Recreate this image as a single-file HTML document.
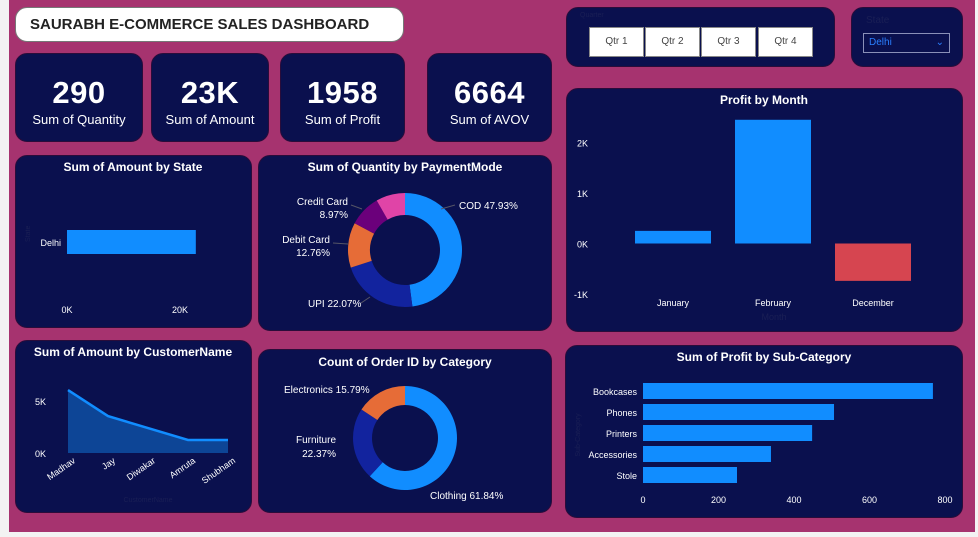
<!DOCTYPE html>
<html><head><meta charset="utf-8">
<style>
*{box-sizing:border-box;margin:0;padding:0}
body{width:978px;height:537px;background:#f3f3f3;font-family:"Liberation Sans","DejaVu Sans",sans-serif;position:relative;overflow:hidden}
#bg{position:absolute;left:9px;top:0;width:966px;height:532px;background:#A6336F}
.card{position:absolute;background:#0A104E;border-radius:12px;border:1px solid #2a0c3a}
.kpi{color:#fff;text-align:center}
.kpi .v{font-size:31px;font-weight:600;margin-top:22px;letter-spacing:0.5px;line-height:34px}
.kpi .l{font-size:13px;margin-top:2px}
.qb{position:absolute;top:27px;width:55px;height:30px;background:#fff;border:1px solid #888;color:#444;font-size:10px;text-align:center;line-height:28px}
svg text{font-family:"Liberation Sans","DejaVu Sans",sans-serif}
</style></head><body>
<div id="bg"></div>
<div style="position:absolute;left:15px;top:7px;width:389px;height:35px;background:#fff;border:1px solid #777;border-radius:12px;font-weight:bold;font-size:15px;line-height:33px;padding-left:14px;color:#222">SAURABH E-COMMERCE SALES DASHBOARD</div>
<div class="card kpi" style="left:15px;top:53px;width:128px;height:89px"><div class="v">290</div><div class="l">Sum of Quantity</div></div>
<div class="card kpi" style="left:151px;top:53px;width:118px;height:89px"><div class="v">23K</div><div class="l">Sum of Amount</div></div>
<div class="card kpi" style="left:280px;top:53px;width:125px;height:89px"><div class="v">1958</div><div class="l">Sum of Profit</div></div>
<div class="card kpi" style="left:427px;top:53px;width:125px;height:89px"><div class="v">6664</div><div class="l">Sum of AVOV</div></div>
<div class="card" style="left:566px;top:7px;width:269px;height:60px"><div style="position:absolute;left:13px;top:4px;font-size:7px;color:#1a1f55">Quarter</div></div>
<div class="qb" style="left:589px">Qtr 1</div>
<div class="qb" style="left:645px">Qtr 2</div>
<div class="qb" style="left:701px">Qtr 3</div>
<div class="qb" style="left:758px">Qtr 4</div>
<div class="card" style="left:851px;top:7px;width:112px;height:60px"><div style="position:absolute;left:14px;top:7px;font-size:10px;color:#1a1f55">State</div></div>
<div style="position:absolute;left:863px;top:33px;width:87px;height:20px;border:1px solid #8a90b8;color:#2a7fff;font-size:10px;line-height:18px;padding-left:5px">Delhi<span style="position:absolute;right:5px;top:0">&#8964;</span></div>
<div class="card" style="left:15px;top:155px;width:237px;height:173px"></div>
<div class="card" style="left:258px;top:155px;width:294px;height:176px"></div>
<div class="card" style="left:566px;top:88px;width:397px;height:244px"></div>
<div class="card" style="left:15px;top:340px;width:237px;height:173px"></div>
<div class="card" style="left:258px;top:349px;width:294px;height:164px"></div>
<div class="card" style="left:565px;top:345px;width:398px;height:173px"></div>
<svg id="s" width="978" height="537" style="position:absolute;left:0;top:0"></svg>
<script>
const stateCats=["Delhi"];const stateVals=[22800];const stateTicks=["0K","20K"];
const payCats=["COD","UPI","Debit Card","Credit Card","Other"];const payVals=[47.93,22.07,12.76,8.97,8.27];
const monthCats=["January","February","December"];const monthVals=[250,2450,-740];const monthTicks=[2000,1000,0,-1000];
const custCats=["Madhav","Jay","Diwakar","Amruta","Shubham"];const custVals=[6050,3550,2400,1250,1250];
const catCats=["Clothing","Furniture","Electronics"];const catVals=[61.84,22.37,15.79];
const subCats=["Bookcases","Phones","Printers","Accessories","Stole"];const subVals=[768,506,448,339,249];const subTicks=[0,200,400,600,800];
const S=document.getElementById('s');const NS="http://www.w3.org/2000/svg";
function mk(t,a,txt){const e=document.createElementNS(NS,t);for(const k in a)e.setAttribute(k,a[k]);if(txt!==undefined)e.textContent=txt;S.appendChild(e);return e;}
function T(x,y,s,o){o=o||{};return mk('text',Object.assign({x:x,y:y,fill:'#fff','font-size':o.fs||10,'text-anchor':o.a||'start','font-weight':o.b?'bold':'normal'},o.t?{transform:o.t}:{}),s);}
[["Sum of Amount by State",133,171],["Sum of Quantity by PaymentMode",405,171],["Profit by Month",764,104],["Sum of Amount by CustomerName",133,356],["Count of Order ID by Category",405,366],["Sum of Profit by Sub-Category",764,361]].forEach(t=>{const e=T(t[1],t[2],t[0],{a:'middle',b:1,fs:12});

});
const sx=v=>67+v*(113/20000);
stateVals.forEach((v,i)=>{const r=mk('rect',{x:sx(0),y:230,width:sx(v)-sx(0),height:24,fill:'#118DFF'});


T(61,246,stateCats[i],{a:'end',fs:9});});
stateTicks.forEach((t,i)=>T(sx(i*20000),313,t,{a:'middle',fs:9}));
T(30,242,"State",{fs:7,t:"rotate(-90 30 242)"}).setAttribute('fill','#1a1f55');
function donut(cx,cy,R,r,vals,cols,name){let a=0;const tot=vals.reduce((p,c)=>p+c,0);vals.forEach((v,i)=>{const a0=a/tot*2*Math.PI,a1=(a+v)/tot*2*Math.PI;a+=v;
const p=(ang,rad)=>[cx+rad*Math.sin(ang),cy-rad*Math.cos(ang)];const L=(a1-a0)>Math.PI?1:0;
const [x0,y0]=p(a0,R),[x1,y1]=p(a1,R),[x2,y2]=p(a1,r),[x3,y3]=p(a0,r);
const e=mk('path',{d:`M${x0},${y0}A${R},${R} 0 ${L} 1 ${x1},${y1}L${x2},${y2}A${r},${r} 0 ${L} 0 ${x3},${y3}Z`,fill:cols[i]});

});}
donut(405,250,57,35,payVals,['#118DFF','#12239E','#E66C37','#6B007B','#E044A7'],'payment');
T(459,209,"COD "+payVals[0]+"%",{fs:10});
T(308,307,"UPI "+payVals[1]+"%",{fs:10});
T(330,243,"Debit Card",{a:'end',fs:10});T(330,256,payVals[2]+"%",{a:'end',fs:10});
T(348,205,"Credit Card",{a:'end',fs:10});T(348,218,payVals[3]+"%",{a:'end',fs:10});
[[441,209,455,205],[361,303,370,297],[333,243,348,244],[351,205,362,209]].forEach(l=>mk('path',{d:`M${l[0]},${l[1]}L${l[2]},${l[3]}`,stroke:'#556',fill:'none'}));
donut(405,438,52,33,catVals,['#118DFF','#12239E','#E66C37'],'category');
T(430,499,"Clothing "+catVals[0]+"%",{fs:10});
T(336,443,"Furniture",{a:'end',fs:10});T(336,457,catVals[1]+"%",{a:'end',fs:10});
T(284,393,"Electronics "+catVals[2]+"%",{fs:10});
const my=v=>243.5-v*0.0505;
monthTicks.forEach(t=>T(588,my(t)+4,(t/1000)+"K",{a:'end',fs:9}));
monthVals.forEach((v,i)=>{const x=635+i*100;const r=mk('rect',{x:x,y:Math.min(my(v),my(0)),width:76,height:Math.abs(my(v)-my(0)),fill:v<0?'#D64550':'#118DFF'});


T(x+38,306,monthCats[i],{a:'middle',fs:9});});
T(774,320,"Month",{a:'middle',fs:9}).setAttribute('fill','#1a1f55');
const cx=i=>68+i*40,cy=v=>453-v*0.0104;
let d=`M${cx(0)},${cy(0)}`;custVals.forEach((v,i)=>d+=`L${cx(i)},${cy(v)}`);d+=`L${cx(custVals.length-1)},${cy(0)}Z`;
const ar=mk('path',{d:d,fill:'#0D4596'});
const ln=mk('polyline',{points:custVals.map((v,i)=>cx(i)+','+cy(v)).join(' '),fill:'none',stroke:'#118DFF','stroke-width':2.5});

[0,5000].forEach(t=>T(46,cy(t)+4,(t/1000)+"K",{a:'end',fs:9}));
custCats.forEach((c,i)=>{const x=cx(i)+8,y=462;T(x,y,c,{a:'end',fs:9,t:`rotate(-35 ${x} ${y})`});});
T(148,502,"CustomerName",{a:'middle',fs:7}).setAttribute('fill','#1a1f55');
const bx=v=>643+v*0.3775;
subVals.forEach((v,i)=>{const y=383+i*21;const r=mk('rect',{x:bx(0),y:y,width:bx(v)-bx(0),height:16,fill:'#118DFF'});


T(637,y+12,subCats[i],{a:'end',fs:9});});
subTicks.forEach(t=>T(bx(t),503,String(t),{a:'middle',fs:9}));
T(580,435,"Sub-Category",{a:'middle',fs:7,t:"rotate(-90 580 435)"}).setAttribute('fill','#1a1f55');
</script>
</body></html>
